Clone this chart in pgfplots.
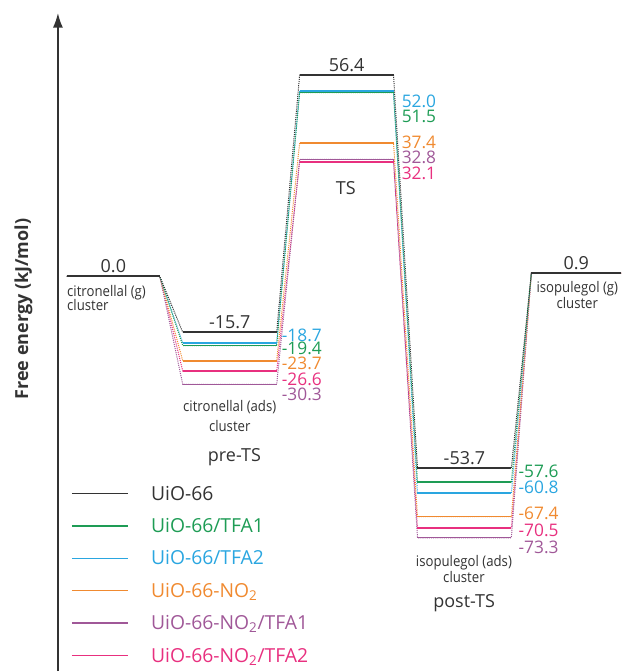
\documentclass[border=0pt]{standalone}
\usepackage{pgfplots}
\pgfplotsset{compat=1.18}
\usepackage{pgfplotstable}
\usepackage{fontspec}
\setmainfont{Open Sans}
\newfontfamily\narrowfont[FakeStretch=0.9]{Open Sans}
\usetikzlibrary{arrows.meta}

\definecolor{cUiO}{HTML}{333333}
\definecolor{cTFAa}{HTML}{1E9C55}
\definecolor{cTFAb}{HTML}{2AA6E0}
\definecolor{cNO}{HTML}{F08A30}
\definecolor{cNOa}{HTML}{A05898}
\definecolor{cNOb}{HTML}{E8307F}

\newcommand\valfont{\fontsize{13.5}{15}\selectfont}
\newcommand\colfont{\fontsize{13}{14}\selectfont}
\newcommand\spfont{\narrowfont\fontsize{11}{12}\selectfont}

% Free energies (kJ/mol) of each stage; x gives the left/right ends of each level
\pgfplotstableread{
x   uio    tfa1   tfa2   no2    no2tfa1 no2tfa2
67   0.0    0.0    0.0    0.0    0.0     0.0
160  0.0    0.0    0.0    0.0    0.0     0.0
nan  nan    nan    nan    nan    nan     nan
183 -15.7  -19.4  -18.7  -23.7  -30.3   -26.6
277 -15.7  -19.4  -18.7  -23.7  -30.3   -26.6
nan  nan    nan    nan    nan    nan     nan
300  56.4   51.5   52.0   37.4   32.8    32.1
394  56.4   51.5   52.0   37.4   32.8    32.1
nan  nan    nan    nan    nan    nan     nan
418 -53.7  -57.6  -60.8  -67.4  -73.3   -70.5
512 -53.7  -57.6  -60.8  -67.4  -73.3   -70.5
nan  nan    nan    nan    nan    nan     nan
532  0.9    0.9    0.9    0.9    0.9     0.9
622  0.9    0.9    0.9    0.9    0.9     0.9
}\levels

\begin{document}
\begin{tikzpicture}
\begin{axis}[
  width=423.75pt, height=494.25pt, scale only axis,
  xmin=58, xmax=623, ymin=-110.7, ymax=73.87,
  axis x line=none, axis y line=left,
  y axis line style={line width=1.3pt, draw=cUiO, -{Latex[length=11pt,width=7.5pt]}},
  xtick=\empty, ytick=\empty,
  clip=false,
  ylabel={Free energy (kJ/mol)},
  ylabel style={font=\fontsize{13.5}{16}\selectfont\bfseries, text=cUiO,
    at={(axis description cs:-0.0612,0.55)}, anchor=center},
  legend image code/.code={\draw[#1, line width=1pt] (0pt,1.2pt) -- (42pt,1.2pt);},
  legend cell align=left,
  legend style={draw=none, fill=none, inner sep=0pt,
    at={(axis cs:71,-58.6)}, anchor=north west,
    font=\fontsize{14.5}{16}\selectfont,
    nodes={inner sep=0pt, text height=11pt, text depth=3.5pt},
    row sep=9.8pt,
    /tikz/every odd column/.append style={column sep=17pt}},
  connector/.style={line width=0.75pt, dash pattern=on 0.8pt off 0.8pt, forget plot,
    unbounded coords=discard},
  level/.style={line width=1.1pt, forget plot, unbounded coords=jump},
]
% page extent
\path (axis cs:0,-110.7) -- (axis cs:623,77.5);

% dotted links between consecutive states
\addplot[connector, cNOb]  table[x=x, y=no2tfa2] {\levels};
\addplot[connector, cNOa]  table[x=x, y=no2tfa1] {\levels};
\addplot[connector, cNO]   table[x=x, y=no2]     {\levels};
\addplot[connector, cTFAb] table[x=x, y=tfa2]    {\levels};
\addplot[connector, cTFAa] table[x=x, y=tfa1]    {\levels};
\addplot[connector, cUiO]  table[x=x, y=uio]     {\levels};

% energy levels
\addplot[level, cNOb]  table[x=x, y=no2tfa2] {\levels};
\addplot[level, cNOa]  table[x=x, y=no2tfa1] {\levels};
\addplot[level, cNO]   table[x=x, y=no2]     {\levels};
\addplot[level, cTFAb] table[x=x, y=tfa2]    {\levels};
\addplot[level, cTFAa] table[x=x, y=tfa1]    {\levels};
\addplot[level, cUiO, line width=1.3pt] table[x=x, y=uio] {\levels};

% legend
\addlegendimage{cUiO}
\addlegendentry{\textcolor{cUiO}{UiO-66}}
\addlegendimage{cTFAa}
\addlegendentry{\textcolor{cTFAa}{UiO-66/TFA1}}
\addlegendimage{cTFAb}
\addlegendentry{\textcolor{cTFAb}{UiO-66/TFA2}}
\addlegendimage{cNO}
\addlegendentry{\textcolor{cNO}{UiO-66-NO\textsubscript{2}}}
\addlegendimage{cNOa}
\addlegendentry{\textcolor{cNOa}{UiO-66-NO\textsubscript{2}/TFA1}}
\addlegendimage{cNOb}
\addlegendentry{\textcolor{cNOb}{UiO-66-NO\textsubscript{2}/TFA2}}

% values of the reference system above its levels
\begin{scope}[every node/.style={font=\valfont, text=cUiO, anchor=base, inner sep=0pt, yshift=2.8pt}]
\node at (axis cs:113.5,0.0)  {0.0};
\node at (axis cs:230,-15.7)  {-15.7};
\node at (axis cs:347,56.4)   {56.4};
\node at (axis cs:465,-53.7)  {-53.7};
\node at (axis cs:577,0.9)    {0.9};
\end{scope}

% values of the modified systems
\begin{scope}[every node/.style={font=\colfont, anchor=west, inner sep=0pt}]
\node[text=cTFAb] at (axis cs:282,-16.61) {-18.7};
\node[text=cTFAa] at (axis cs:282,-20.25) {-19.4};
\node[text=cNO]   at (axis cs:282,-24.45) {-23.7};
\node[text=cNOb]  at (axis cs:282,-28.94) {-26.6};
\node[text=cNOa]  at (axis cs:282,-33.14) {-30.3};

\node[text=cTFAb] at (axis cs:402,49.08) {52.0};
\node[text=cTFAa] at (axis cs:402,44.87) {51.5};
\node[text=cNO]   at (axis cs:402,37.59) {37.4};
\node[text=cNOa]  at (axis cs:402,33.25) {32.8};
\node[text=cNOb]  at (axis cs:402,28.77) {32.1};

\node[text=cTFAa] at (axis cs:519,-54.71) {-57.6};
\node[text=cTFAb] at (axis cs:519,-59.19) {-60.8};
\node[text=cNO]   at (axis cs:519,-66.47) {-67.4};
\node[text=cNOb]  at (axis cs:519,-71.23) {-70.5};
\node[text=cNOa]  at (axis cs:519,-75.99) {-73.3};
\end{scope}

% species and stage names
\begin{scope}[every node/.style={font=\spfont, text=cUiO, inner sep=0pt}]
\node[anchor=base west] at (axis cs:67,-5.69) {citronellal (g)};
\node[anchor=base west] at (axis cs:67,-9.47) {cluster};
\node[anchor=base] at (axis cs:230,-37.82) {citronellal (ads)};
\node[anchor=base] at (axis cs:230,-43.42) {cluster};
\node[anchor=base] at (axis cs:464.5,-81.23) {isopulegol (ads)};
\node[anchor=base] at (axis cs:464.5,-85.89) {cluster};
\node[anchor=base] at (axis cs:578,-4.65) {isopulegol (g)};
\node[anchor=base] at (axis cs:578,-9.13) {cluster};
\end{scope}
\begin{scope}[every node/.style={font=\valfont, text=cUiO, inner sep=0pt, anchor=base}]
\node at (axis cs:346.3,22.89) {TS};
\node at (axis cs:234.7,-51.82) {pre-TS};
\node at (axis cs:464.7,-92.89) {post-TS};
\end{scope}
\end{axis}
\end{tikzpicture}
\end{document}
